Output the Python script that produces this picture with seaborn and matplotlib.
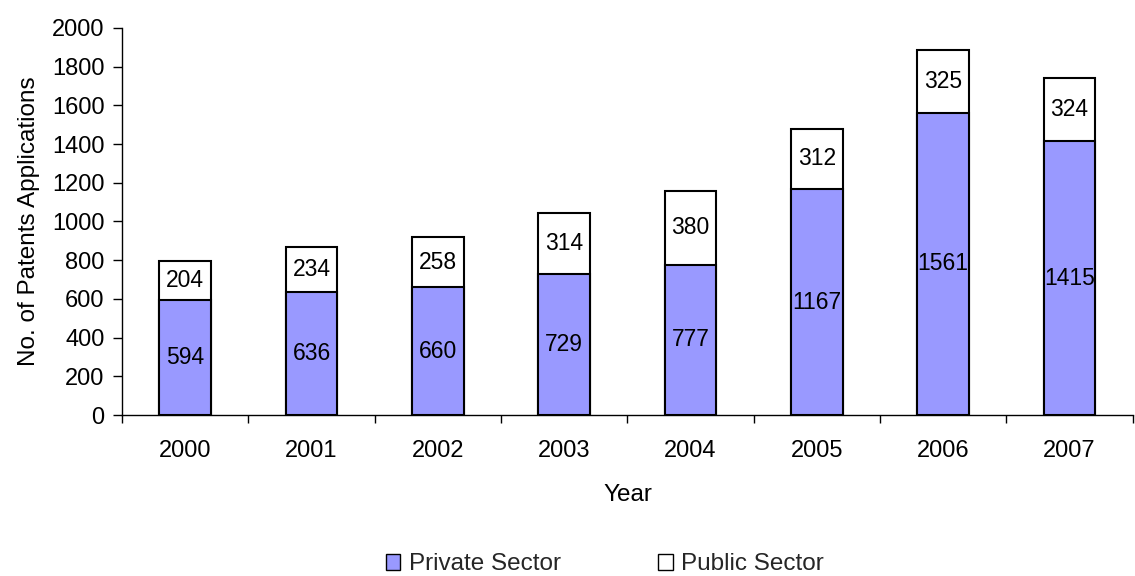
import matplotlib
matplotlib.use("Agg")
import matplotlib.pyplot as plt
import seaborn as sns
import pandas as pd
from matplotlib.patches import Patch

years = ["2000", "2001", "2002", "2003", "2004", "2005", "2006", "2007"]
private_sector = [594, 636, 660, 729, 777, 1167, 1561, 1415]
public_sector = [204, 234, 258, 314, 380, 312, 325, 324]

sns.set_theme(style="white")
plt.rcParams['font.family'] = ['Liberation Sans', 'DejaVu Sans']

df = pd.DataFrame({"Year": years, "Private": private_sector, "Public": public_sector})
df["Total"] = df["Private"] + df["Public"]

fig = plt.figure(figsize=(11.35, 5.76), dpi=100)
ax = fig.add_axes([0.1075, 0.2795, 0.8905, 0.672])

blue = "#9999FF"
sns.barplot(data=df, x="Year", y="Total", color="white", edgecolor="black",
            linewidth=1.5, width=0.41, ax=ax, saturation=1)
sns.barplot(data=df, x="Year", y="Private", color=blue, edgecolor="black",
            linewidth=1.5, width=0.41, ax=ax, saturation=1)

fs = 17
for i, (p, q) in enumerate(zip(private_sector, public_sector)):
    ax.text(i, p / 2, str(p), ha="center", va="center", fontsize=fs - 0.5, color="black")
    ax.text(i, p + q / 2, str(q), ha="center", va="center", fontsize=fs - 0.5, color="black")

ax.set_xlim(-0.5, len(years) - 0.5)
ax.set_ylim(0, 2000)
ax.set_yticks(range(0, 2001, 200))
ax.tick_params(axis="y", labelsize=fs, left=True, length=6.5, width=1, color="black",
               direction="out", labelcolor="black", pad=6)
ax.set_xticks(range(len(years)))
ax.set_xticklabels(years)
ax.set_xticks([i + 0.5 for i in range(-1, len(years))], minor=True)
ax.tick_params(axis="x", which="major", bottom=False, labelsize=fs, pad=12, labelcolor="black")
ax.tick_params(axis="x", which="minor", bottom=True, length=6, width=1, color="black",
               direction="out")

for s in ["top", "right"]:
    ax.spines[s].set_visible(False)
for s in ["left", "bottom"]:
    ax.spines[s].set_color("black")
    ax.spines[s].set_linewidth(1)

ax.set_xlabel("Year", fontsize=fs + 0.5, color="black", labelpad=16)
ax.set_ylabel("No. of Patents Applications", fontsize=fs + 0.5, color="black", labelpad=9)
ax.grid(False)

handles = [Patch(facecolor=blue, edgecolor="black", linewidth=1),
           Patch(facecolor="white", edgecolor="black", linewidth=1)]
fig.legend(handles, ["Private Sector", "Public Sector"], loc="center",
           bbox_to_anchor=(0.533, 0.02), ncol=2, frameon=False, fontsize=fs + 0.5,
           handlelength=0.6, handleheight=0.6, handletextpad=0.35, columnspacing=4.0)

fig.savefig("out.png", dpi=100, facecolor="white")
